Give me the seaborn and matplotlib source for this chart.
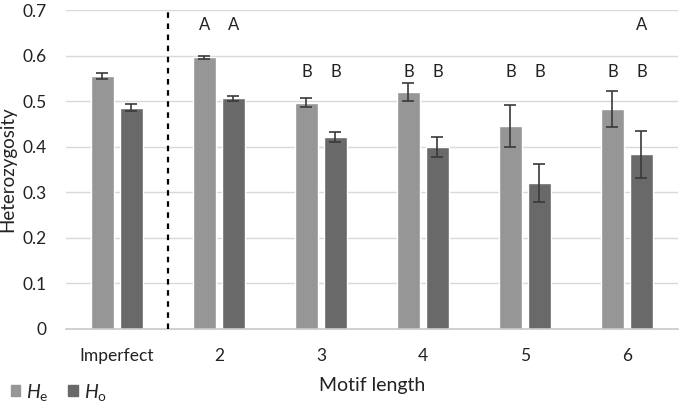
import matplotlib
matplotlib.use("Agg")
import matplotlib.pyplot as plt
import matplotlib.patches as mpatches
import pandas as pd
import seaborn as sns

# ==============================
# DATA
# ==============================
categories = ["Imperfect", "2", "3", "4", "5", "6"]
he_values = [0.555, 0.596, 0.497, 0.521, 0.446, 0.483]
ho_values = [0.486, 0.506, 0.421, 0.400, 0.320, 0.383]
he_err = [0.006, 0.004, 0.009, 0.020, 0.046, 0.040]
ho_err = [0.007, 0.005, 0.011, 0.022, 0.042, 0.051]
# significance letters, upper row and lower row
he_top = ["", "A", "", "", "", ""]
ho_top = ["", "A", "", "", "", "A"]
he_low = ["", "", "B", "B", "B", "B"]
ho_low = ["", "", "B", "B", "B", "B"]
yticks = [0, 0.1, 0.2, 0.3, 0.4, 0.5, 0.6, 0.7]

he_color = "#969696"
ho_color = "#696969"

df = pd.DataFrame({
    "motif": categories * 2,
    "het": he_values + ho_values,
    "series": ["He"] * len(categories) + ["Ho"] * len(categories),
})

sns.set_style("white")
plt.rcParams["font.family"] = ["Lato", "DejaVu Sans"]
plt.rcParams["mathtext.fontset"] = "custom"
plt.rcParams["mathtext.rm"] = "Lato"
plt.rcParams["mathtext.it"] = "Lato:italic"

fig = plt.figure(figsize=(6.8, 4.04), dpi=100)
ax = fig.add_axes([0.097, 0.186, 0.900, 0.789])

for y in yticks[1:]:
    ax.axhline(y, color="#d9d9d9", lw=1, zorder=0)

sns.barplot(data=df, x="motif", y="het", hue="series", order=categories,
            palette=[he_color, ho_color], width=0.568, gap=0.21,
            legend=False, ax=ax, zorder=2)

# error bars + letters from bar positions
n = len(categories)
bars = ax.patches
for k, bar in enumerate(bars):
    i = k % n
    xc = bar.get_x() + bar.get_width() / 2
    h = bar.get_height()
    if k < n:
        err, top, low = he_err[i], he_top[i], he_low[i]
    else:
        err, top, low = ho_err[i], ho_top[i], ho_low[i]
    ax.errorbar(xc, h, yerr=err, fmt="none", ecolor="#3a3a3a",
                elinewidth=1.2, capsize=4, capthick=1.2, zorder=3)
    if top:
        ax.text(xc, 0.668, top, ha="center", va="center", fontsize=12,
                color="#222222")
    if low:
        ax.text(xc, 0.563, low, ha="center", va="center", fontsize=12,
                color="#222222")

ax.axvline(0.5, ymin=0, ymax=1, color="black", lw=1.6,
           linestyle=(0, (2.5, 2.5)), zorder=3)

ax.set_ylim(0, 0.7)
ax.set_xlim(-0.5, n - 0.5)
ax.set_yticks(yticks)
ax.set_yticklabels(["0"] + [f"{v:.1f}" for v in yticks[1:]])
ax.tick_params(axis="both", labelsize=12.5, colors="#222222", length=0)
ax.tick_params(axis="y", pad=14)
ax.tick_params(axis="x", pad=14)
ax.set_ylabel("Heterozygosity", fontsize=13.5, color="#222222", labelpad=4)
ax.set_xlabel("Motif length", fontsize=14, color="#222222", labelpad=9)

for s in ["top", "right", "left"]:
    ax.spines[s].set_visible(False)
ax.spines["bottom"].set_color("#c8c8c8")
ax.spines["bottom"].set_linewidth(1.2)

handles = [mpatches.Patch(color=he_color, label=r"$\mathit{H}_\mathrm{e}$"),
           mpatches.Patch(color=ho_color, label=r"$\mathit{H}_\mathrm{o}$")]
fig.legend(handles=handles, loc="lower left", bbox_to_anchor=(-0.01, -0.04),
           ncol=2, frameon=False, fontsize=14, handlelength=0.5,
           handleheight=0.5, handletextpad=0.3, columnspacing=1.0)

fig.savefig("out.png", dpi=100)
plt.close(fig)
